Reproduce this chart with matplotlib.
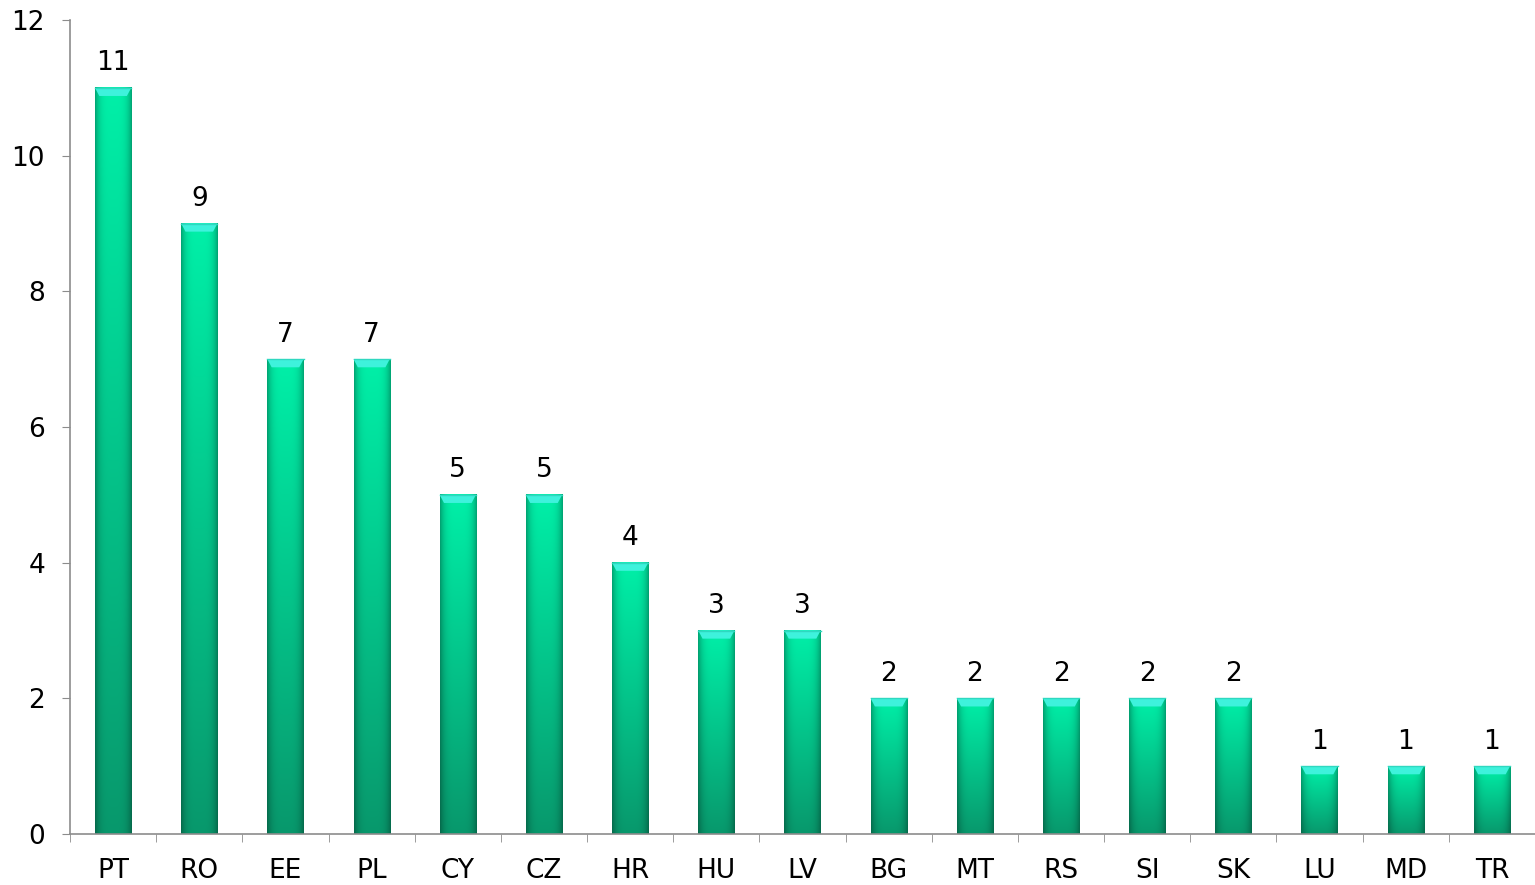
import numpy as np
import matplotlib
matplotlib.use('Agg')
import matplotlib.pyplot as plt
from matplotlib.patches import Polygon

# dados
paises = ['PT', 'RO', 'EE', 'PL', 'CY', 'CZ', 'HR', 'HU', 'LV', 'BG', 'MT', 'RS', 'SI', 'SK', 'LU', 'MD', 'TR']
valores = [11, 9, 7, 7, 5, 5, 4, 3, 3, 2, 2, 2, 2, 2, 1, 1, 1]

cor_topo = np.array([0x00, 0xF0, 0xA8]) / 255
cor_base = np.array([0x08, 0x98, 0x6C]) / 255
cinza = '#8c8c8c'

fig = plt.figure(figsize=(15.35, 8.85), dpi=100)
ax = fig.add_axes([70/1535, 1 - 834/885, 1 - 70/1535, (834 - 20)/885])

larg = 0.42
x = np.arange(len(paises))

# gradiente de cada barra (vertical + sombra nas bordas)
def imagem_barra(n_lin=200, n_col=40):
    t = np.linspace(1, 0, n_lin)[:, None]   # 1 em cima
    u = np.linspace(-1, 1, n_col)[None, :]
    base = cor_base[None, None, :] + (cor_topo - cor_base)[None, None, :] * t[..., None]
    sombra = 1 - 0.30 * np.abs(u) ** 4
    img = base * sombra[..., None]
    return np.clip(img, 0, 1)

img = imagem_barra()
for xi, v in zip(x, valores):
    ax.imshow(img, extent=(xi - larg/2, xi + larg/2, 0, v), aspect='auto',
              interpolation='bilinear', zorder=2)
    # chanfro no topo
    h = 0.12
    d = 0.05
    topo = Polygon([(xi - larg/2, v), (xi + larg/2, v), (xi + larg/2 - d, v - h), (xi - larg/2 + d, v - h)],
                   closed=True, facecolor='#3ef2dc', edgecolor='none', zorder=3)
    ax.add_patch(topo)
    ax.plot([xi - larg/2, xi + larg/2], [v, v], color='#2fd8c0', lw=1, zorder=3)
    ax.text(xi, v + 0.17, str(v), ha='center', va='bottom', fontsize=19, color='black')

ax.set_xlim(-0.5, len(paises) - 0.5)
ax.set_ylim(0, 12)
ax.set_yticks(range(0, 13, 2))
ax.set_xticks(x)
ax.set_xticklabels(paises)
ax.set_xticks(np.arange(-0.5, len(paises), 1), minor=True)

ax.tick_params(axis='x', which='major', length=0, pad=17, labelsize=19)
ax.tick_params(axis='x', which='minor', length=6, color=cinza, direction='out')
ax.tick_params(axis='y', length=6, color=cinza, direction='out', pad=12, labelsize=19)

for lado in ['top', 'right']:
    ax.spines[lado].set_visible(False)
for lado in ['left', 'bottom']:
    ax.spines[lado].set_color(cinza)
    ax.spines[lado].set_linewidth(1.2)

fig.savefig('out.png', dpi=100)
